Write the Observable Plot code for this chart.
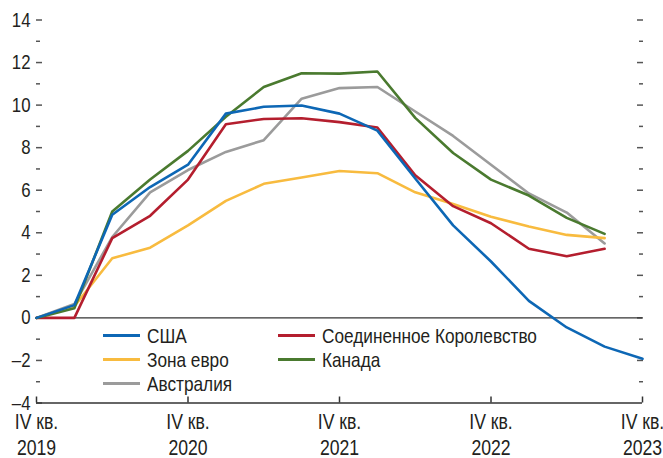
<!DOCTYPE html>
<html>
<head>
<meta charset="utf-8">
<script src="https://cdn.jsdelivr.net/npm/d3@7"></script>
<script src="https://cdn.jsdelivr.net/npm/@observablehq/plot@0.6"></script>
<style>
  html, body { margin: 0; padding: 0; background: #fff; }
  #wrap { position: relative; width: 663px; height: 458px; font-family: "Liberation Sans", Arial, sans-serif; overflow: hidden; }
  #legend { position: absolute; left: 0; top: 0; width: 663px; height: 458px; pointer-events: none; }
  .item { position: absolute; display: flex; align-items: center; font-size: 21px; color: #231f20; white-space: nowrap; }
  .sw { width: 37px; height: 3px; margin-right: 7px; flex: none; }
  .lbl { display: inline-block; transform: scaleX(0.82); transform-origin: left center; }
</style>
</head>
<body>
<div id="wrap"><div id="chart"></div><div id="legend"></div></div>
<script>
// quarter index: 0 = IV кв. 2019 ... 16 = IV кв. 2023
const xTickValues = [0, 4, 8, 12, 16];
const xTickLabels = ["IV кв.\n2019", "IV кв.\n2020", "IV кв.\n2021", "IV кв.\n2022", "IV кв.\n2023"];
const yTickLabels = [-4, -2, 0, 2, 4, 6, 8, 10, 12, 14];
const yMinorTicks = [-3, -1, 1, 3, 5, 7, 9, 11, 13];

const seriesNames = ["США", "Соединенное Королевство", "Зона евро", "Канада", "Австралия"];
const seriesColors = ["#0d67b5", "#b41e2e", "#f8bb3f", "#4a7a2f", "#9b9b9b"];

const usa       = [0, 0.6, 4.85, 6.15, 7.2, 9.6, 9.92, 9.98, 9.6, 8.8, 6.55, 4.35, 2.65, 0.8, -0.45, -1.35, -1.92];
const uk        = [0, 0, 3.75, 4.8, 6.5, 9.1, 9.35, 9.38, 9.2, 8.95, 6.7, 5.25, 4.45, 3.25, 2.9, 3.25];
const euro      = [0, 0.55, 2.8, 3.3, 4.35, 5.5, 6.3, 6.6, 6.9, 6.8, 5.9, 5.35, 4.75, 4.3, 3.9, 3.75];
const canada    = [0, 0.45, 5.0, 6.5, 7.85, 9.45, 10.85, 11.5, 11.48, 11.58, 9.4, 7.75, 6.5, 5.75, 4.7, 3.95];
const australia = [0, 0.65, 3.8, 5.9, 6.95, 7.8, 8.35, 10.3, 10.8, 10.85, 9.7, 8.55, 7.2, 5.85, 4.95, 3.5];

const seriesValues = [usa, uk, euro, canada, australia];
// draw order: back to front
const drawOrder = ["Австралия", "Зона евро", "Соединенное Королевство", "Канада", "США"];

const data = seriesNames.flatMap((name, k) => seriesValues[k].map((v, i) => ({q: i, value: v, series: name})));

const tickColor = "#555";
const font = `"Liberation Sans", Arial, sans-serif`;

const chart = Plot.plot({
  width: 663,
  height: 458,
  marginLeft: 36,
  marginRight: 21,
  marginTop: 19.5,
  marginBottom: 55.5,
  style: {fontFamily: font, fontSize: "21px", color: "#231f20", background: "#fff", overflow: "visible"},
  x: {domain: [0, 16], axis: null},
  y: {domain: [-4, 14], axis: null},
  color: {domain: seriesNames, range: seriesColors},
  marks: [
    // left y axis: labels
    Plot.axisY(yTickLabels, {anchor: "left", label: null, tickSize: 0, tickPadding: 6, fontSize: 20.5,
      tickFormat: d => d < 0 ? "\u2013" + Math.abs(d) : String(d), fill: "#231f20"}),
    // left major/minor ticks pointing inward
    Plot.axisY(yTickLabels, {anchor: "left", label: null, tickSize: 6, dx: 6, tickFormat: () => "", stroke: tickColor, strokeWidth: 1.5}),
    Plot.axisY(yMinorTicks, {anchor: "left", label: null, tickSize: 4, dx: 4, tickFormat: () => "", stroke: tickColor, strokeWidth: 1.5}),
    // right ticks pointing inward
    Plot.axisY(yTickLabels.filter(d => d > -4), {anchor: "right", label: null, tickSize: 6, dx: -6, tickFormat: () => "", stroke: tickColor, strokeWidth: 1.5}),
    Plot.axisY(yMinorTicks, {anchor: "right", label: null, tickSize: 4, dx: -4, tickFormat: () => "", stroke: tickColor, strokeWidth: 1.5}),
    // zero line and bottom axis line
    Plot.ruleY([0], {stroke: "#333", strokeWidth: 1.2}),
    Plot.ruleY([-4], {stroke: "#333", strokeWidth: 1.5}),
    // x axis ticks pointing up
    Plot.axisX(xTickValues, {anchor: "bottom", label: null, tickSize: 6, dy: -6, tickFormat: () => "", stroke: "#333", strokeWidth: 1.5}),
    Plot.axisX(xTickValues, {anchor: "bottom", label: null, tickSize: 0, tickPadding: 8, fontSize: 21.5, lineHeight: 1.19, fill: "#231f20",
      tickFormat: d => xTickLabels[xTickValues.indexOf(d)]}),
    Plot.line(data, {x: "q", y: "value", z: "series", stroke: "series", strokeWidth: 2.6,
      sort: d => drawOrder.indexOf(d.series), curve: "linear"})
  ]
});
document.getElementById("chart").appendChild(chart);

// condense axis texts (Arial Narrow look): scale horizontally about each text's anchor point
d3.select(chart).selectAll("text").each(function() {
  if (!this.textContent) return;
  const tr = this.getAttribute("transform") || "";
  this.setAttribute("transform", (tr + " scale(0.82,1)").trim());
});

// legend (inside plot area, below zero line)
const legendCols = [103, 278];
const legendRows = [335.5, 359.5, 383.5];
const legend = d3.select("#legend");
seriesNames.forEach((name, k) => {
  const col = k % 2, row = Math.floor(k / 2);
  const item = legend.append("div").attr("class", "item")
    .style("left", legendCols[col] + "px")
    .style("top", (legendRows[row] - 12) + "px")
    .style("height", "24px");
  item.append("div").attr("class", "sw").style("background", seriesColors[k]);
  item.append("span").attr("class", "lbl").text(name);
});
</script>
</body>
</html>
